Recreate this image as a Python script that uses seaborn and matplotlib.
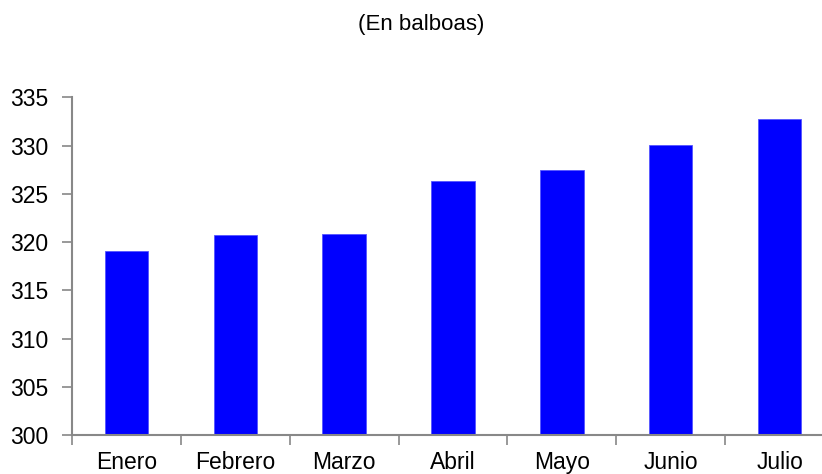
import numpy as np
import pandas as pd
import matplotlib
matplotlib.use('Agg')
import matplotlib.pyplot as plt
import seaborn as sns

# Datos
meses = ['Enero', 'Febrero', 'Marzo', 'Abril', 'Mayo', 'Junio', 'Julio']
valores = [319.05, 320.7, 320.85, 326.35, 327.45, 330.05, 332.75]

df = pd.DataFrame({'mes': meses, 'valor': valores})

sns.set_style("ticks")
plt.rcParams['font.family'] = ['Liberation Sans', 'DejaVu Sans']
plt.rcParams['text.color'] = 'black'

fig = plt.figure(figsize=(8.22, 4.74), dpi=100)
ax = fig.add_axes([0.0876, 0.0816, 0.927, 0.7131])

sns.barplot(data=df, x='mes', y='valor', color='#0000FF', saturation=1,
            width=0.4, edgecolor='#5555FF', linewidth=0.6, ax=ax)

ax.set_ylim(300, 335)
ax.set_xlim(-0.5, len(meses) - 0.5)
ax.set_yticks(np.arange(300, 336, 5))
ax.set_xlabel('')
ax.set_ylabel('')

# marcas del eje x entre categorías, etiquetas centradas
ax.set_xticks(np.arange(-0.5, len(meses)), labels=[''] * (len(meses) + 1))
ax.set_xticks(np.arange(len(meses)), labels=meses, minor=True)
ax.tick_params(axis='x', which='major', length=7, width=1.2, color='#888888', direction='out')
ax.tick_params(axis='x', which='minor', length=0, pad=11, labelsize=16.5, labelcolor='black')
ax.tick_params(axis='y', length=7, width=1.2, color='#888888', pad=10, labelsize=16.5, labelcolor='black')

for lado in ['top', 'right']:
    ax.spines[lado].set_visible(False)
for lado in ['left', 'bottom']:
    ax.spines[lado].set_color('#888888')
    ax.spines[lado].set_linewidth(1.5)

fig.text(0.512, 0.949, '(En balboas)', ha='center', va='center', fontsize=16, color='black')

fig.savefig('out.png', dpi=100)
